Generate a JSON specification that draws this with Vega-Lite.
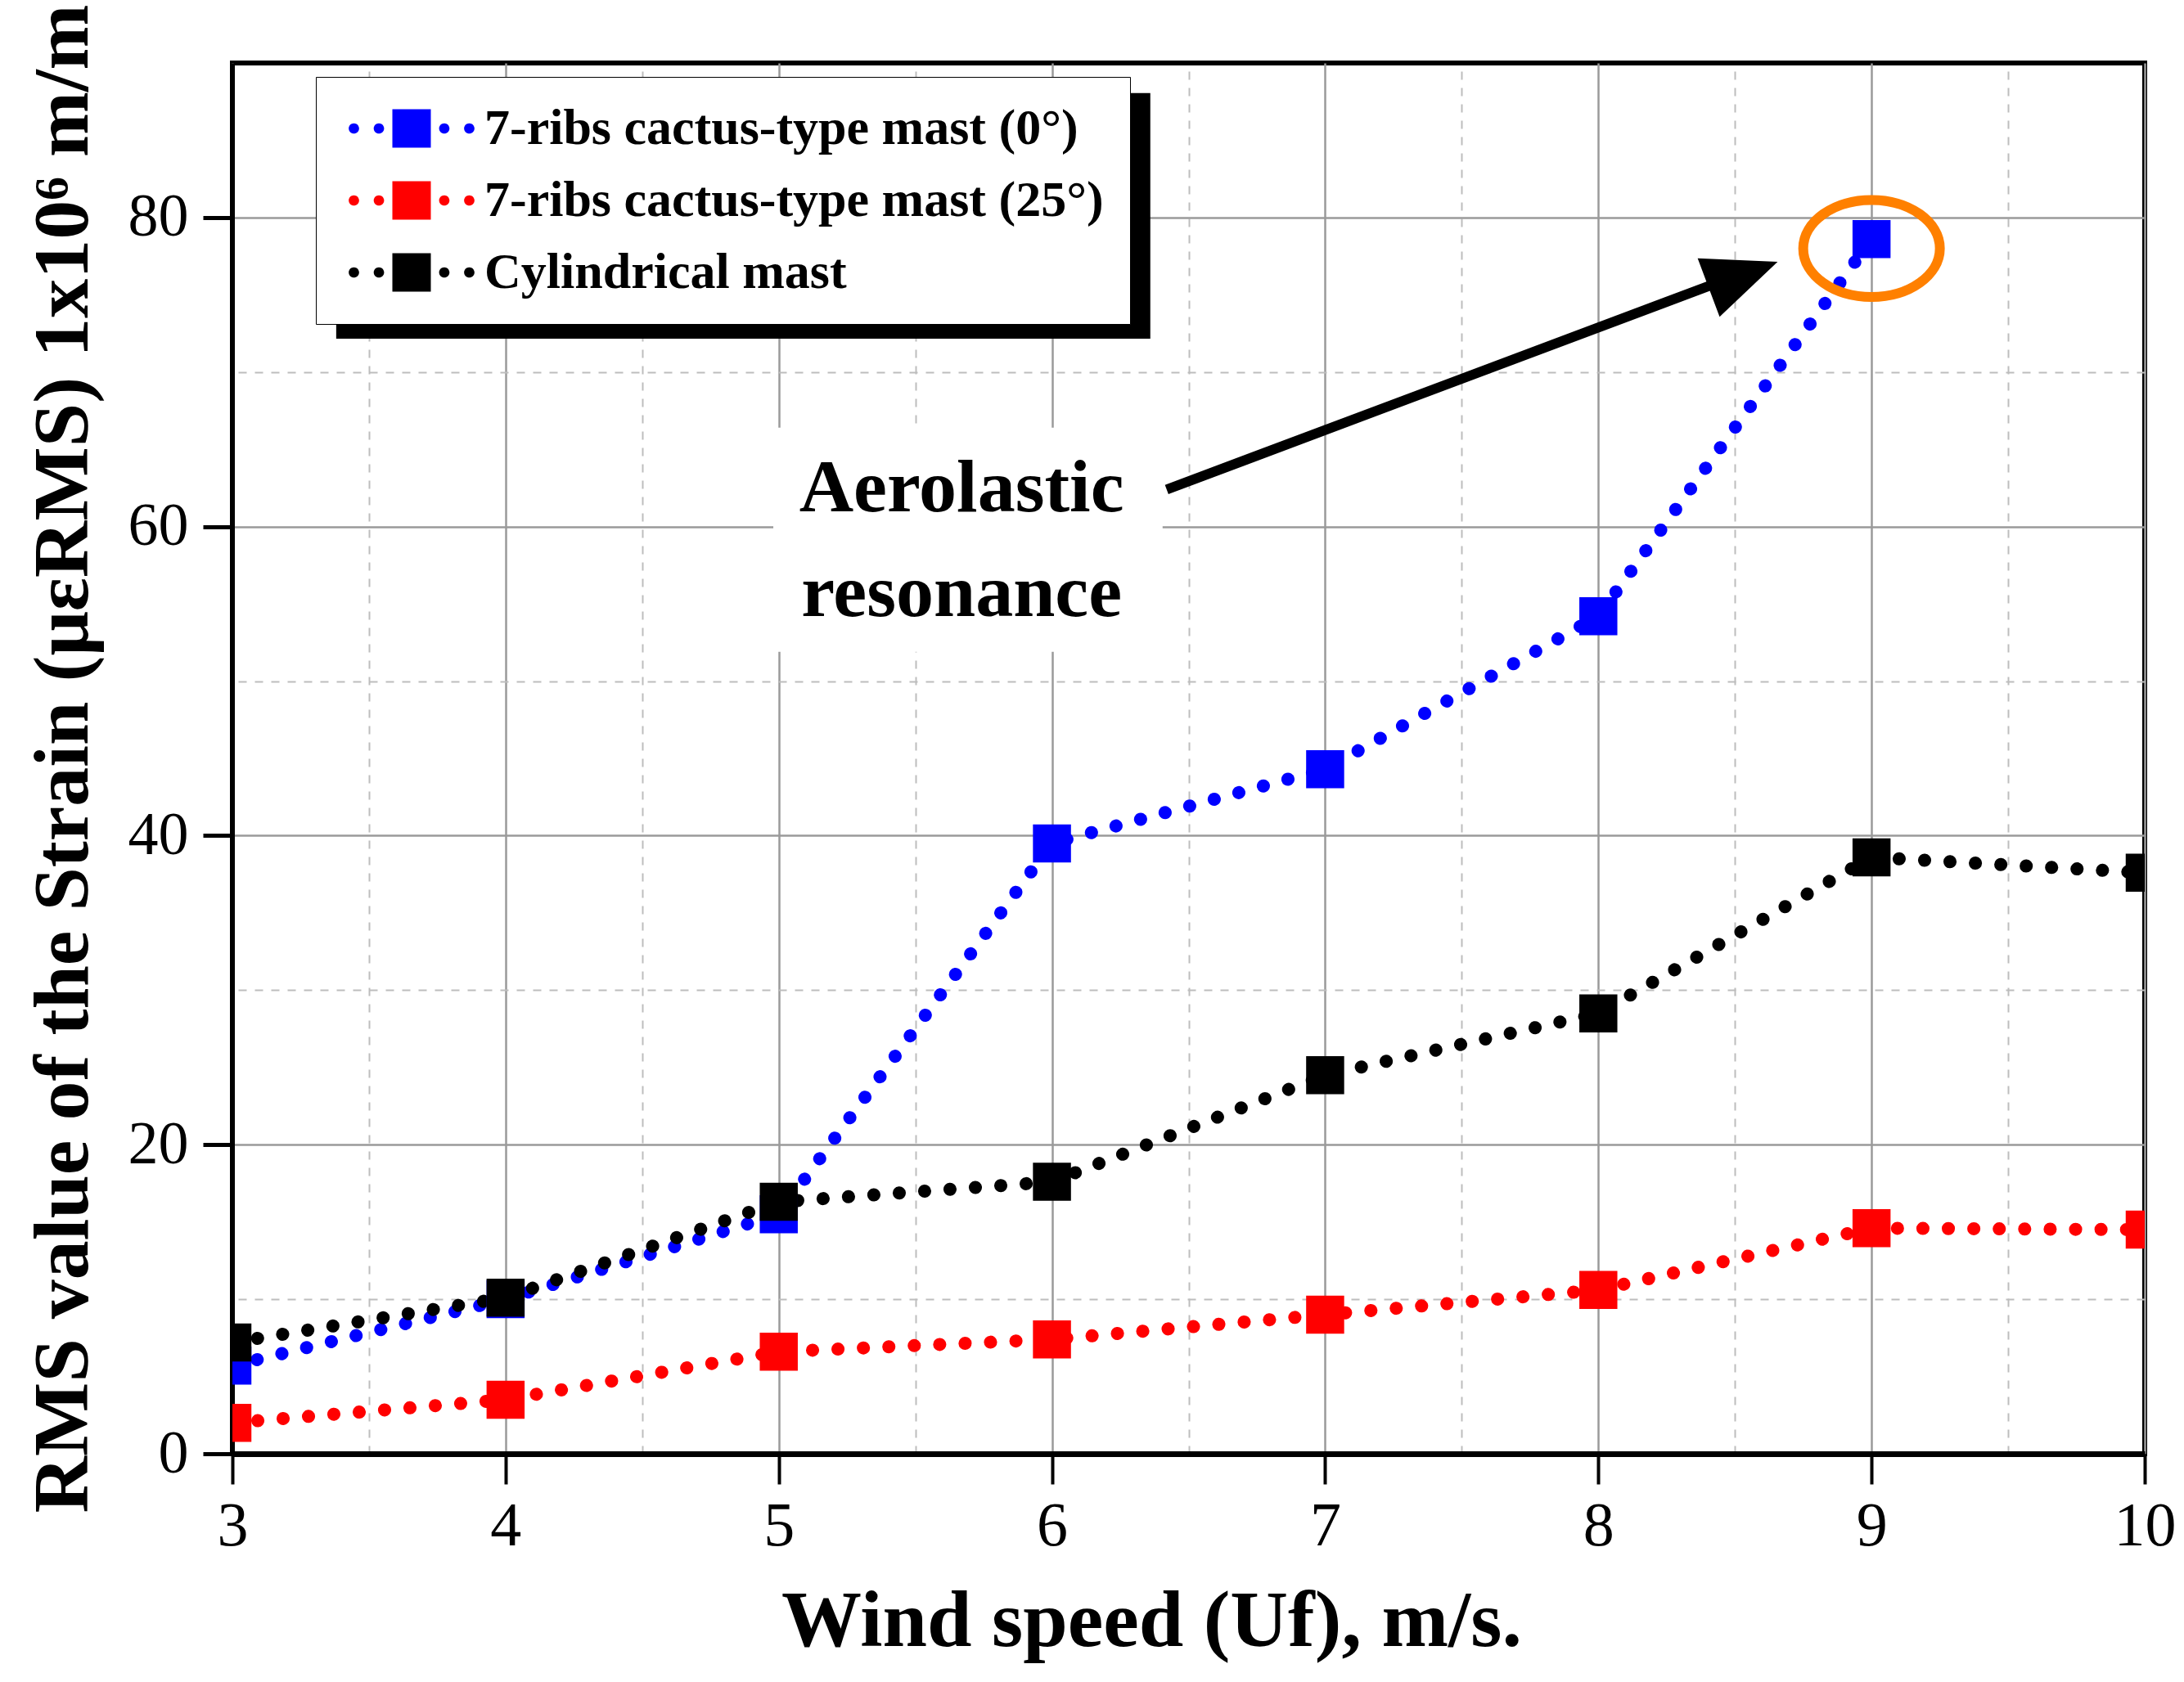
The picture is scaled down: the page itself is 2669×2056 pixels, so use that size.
{
  "$schema": "https://vega.github.io/schema/vega-lite/v6.json",
  "autosize": {"type": "none"},
  "width": 2337,
  "height": 1700,
  "padding": {"left": 284, "top": 77, "right": 48, "bottom": 279},
  "background": "white",
  "config": {
    "view": {"stroke": "black", "strokeWidth": 6},
    "font": "Liberation Serif"
  },
  "datasets": {
    "strain": [
      {"speed": 3, "strain": 5.7, "series": "7-ribs cactus-type mast (0°)"},
      {"speed": 4, "strain": 10.0, "series": "7-ribs cactus-type mast (0°)"},
      {"speed": 5, "strain": 15.5, "series": "7-ribs cactus-type mast (0°)"},
      {"speed": 6, "strain": 39.5, "series": "7-ribs cactus-type mast (0°)"},
      {"speed": 7, "strain": 44.3, "series": "7-ribs cactus-type mast (0°)"},
      {"speed": 8, "strain": 54.2, "series": "7-ribs cactus-type mast (0°)"},
      {"speed": 9, "strain": 78.6, "series": "7-ribs cactus-type mast (0°)"},
      {"speed": 3, "strain": 2.0, "series": "7-ribs cactus-type mast (25°)"},
      {"speed": 4, "strain": 3.5, "series": "7-ribs cactus-type mast (25°)"},
      {"speed": 5, "strain": 6.6, "series": "7-ribs cactus-type mast (25°)"},
      {"speed": 6, "strain": 7.4, "series": "7-ribs cactus-type mast (25°)"},
      {"speed": 7, "strain": 9.0, "series": "7-ribs cactus-type mast (25°)"},
      {"speed": 8, "strain": 10.6, "series": "7-ribs cactus-type mast (25°)"},
      {"speed": 9, "strain": 14.6, "series": "7-ribs cactus-type mast (25°)"},
      {"speed": 10, "strain": 14.5, "series": "7-ribs cactus-type mast (25°)"},
      {"speed": 3, "strain": 7.2, "series": "Cylindrical mast"},
      {"speed": 4, "strain": 10.1, "series": "Cylindrical mast"},
      {"speed": 5, "strain": 16.3, "series": "Cylindrical mast"},
      {"speed": 6, "strain": 17.6, "series": "Cylindrical mast"},
      {"speed": 7, "strain": 24.5, "series": "Cylindrical mast"},
      {"speed": 8, "strain": 28.5, "series": "Cylindrical mast"},
      {"speed": 9, "strain": 38.6, "series": "Cylindrical mast"},
      {"speed": 10, "strain": 37.6, "series": "Cylindrical mast"}
    ],
    "shadow": [{"x": 3.38, "x2": 6.36, "y": 88.05, "y2": 72.16}],
    "box": [{"x": 4.98, "x2": 6.405, "y": 66.4, "y2": 51.9}],
    "words": [
      {"x": 5.669, "y": 60.98, "text": "Aerolastic"},
      {"x": 5.669, "y": 54.2, "text": "resonance"}
    ],
    "arrow": [{"x": 6.42, "y": 62.4, "x2": 8.5, "y2": 76.2}],
    "head": [{"x": 8.53, "y": 76.3}],
    "ring": [{"x": 9.0, "y": 78.0}]
  },
  "layer": [
    {
      "data": {"name": "shadow"},
      "mark": {"type": "rect", "color": "black"},
      "encoding": {
        "x": {"field": "x", "type": "quantitative", "scale": {"domain": [3, 10]},
          "axis": {"orient": "top", "values": [3.5, 4.5, 5.5, 6.5, 7.5, 8.5, 9.5], "grid": true, "gridDash": [10, 10], "gridColor": "#bdbdbd", "gridWidth": 2, "labels": false, "ticks": false, "domain": false, "title": null}},
        "x2": {"field": "x2"},
        "y": {"field": "y", "type": "quantitative", "scale": {"domain": [0, 90]},
          "axis": {"orient": "right", "values": [10, 30, 50, 70], "grid": true, "gridDash": [10, 10], "gridColor": "#bdbdbd", "gridWidth": 2, "labels": false, "ticks": false, "domain": false, "title": null}},
        "y2": {"field": "y2"}
      }
    },
    {
      "data": {"name": "box"},
      "mark": {"type": "rect", "color": "white"},
      "encoding": {
        "x": {"field": "x", "type": "quantitative", "scale": {"domain": [3, 10]}, "axis": null},
        "x2": {"field": "x2"},
        "y": {"field": "y", "type": "quantitative", "scale": {"domain": [0, 90]}, "axis": null},
        "y2": {"field": "y2"}
      }
    },
    {
      "data": {"name": "strain"},
      "mark": {"type": "line", "strokeWidth": 16, "strokeDash": [0.1, 31], "strokeCap": "round", "clip": true},
      "encoding": {
        "x": {"field": "speed", "type": "quantitative", "scale": {"domain": [3, 10]},
          "axis": {"orient": "bottom", "values": [3, 4, 5, 6, 7, 8, 9, 10], "grid": true, "gridColor": "#9a9a9a", "gridWidth": 2.5,
            "domainColor": "black", "domainWidth": 7, "tickColor": "black", "tickSize": 37, "tickWidth": 4,
            "labelFont": "Liberation Serif", "labelFontSize": 76, "labelColor": "black", "labelPadding": 14, "labelFlush": false, "labelOverlap": false,
            "title": "Wind speed (Uf), m/s.", "titleFont": "Liberation Serif", "titleFontSize": 98, "titleFontWeight": "bold", "titleColor": "black",
            "titleX": 1123, "titleY": 234, "titleAlign": "center", "titleBaseline": "alphabetic"}},
        "y": {"field": "strain", "type": "quantitative", "scale": {"domain": [0, 90]},
          "axis": {"orient": "left", "values": [0, 20, 40, 60, 80], "grid": true, "gridColor": "#9a9a9a", "gridWidth": 2.5,
            "domainColor": "black", "domainWidth": 5, "tickColor": "black", "tickSize": 36, "tickWidth": 5,
            "labelFont": "Liberation Serif", "labelFontSize": 74, "labelColor": "black", "labelPadding": 18, "labelOverlap": false,
            "title": "RMS value of the Strain (μεRMS) 1x10⁶ m/m", "titleFont": "Liberation Serif", "titleFontSize": 96, "titleFontWeight": "bold", "titleColor": "black",
            "titleX": -178, "titleY": 850, "titleAngle": 270, "titleAlign": "center", "titleBaseline": "alphabetic"}},
        "color": {"field": "series", "type": "nominal",
          "scale": {"domain": ["7-ribs cactus-type mast (0°)", "7-ribs cactus-type mast (25°)", "Cylindrical mast"], "range": ["#0000ff", "#ff0000", "#000000"]},
          "legend": null}
      }
    },
    {
      "data": {"name": "strain"},
      "mark": {"type": "point", "shape": "square", "filled": true, "size": 2160, "opacity": 1, "clip": true},
      "encoding": {
        "x": {"field": "speed", "type": "quantitative", "scale": {"domain": [3, 10]}, "axis": null},
        "y": {"field": "strain", "type": "quantitative", "scale": {"domain": [0, 90]}, "axis": null},
        "color": {"field": "series", "type": "nominal",
          "scale": {"domain": ["7-ribs cactus-type mast (0°)", "7-ribs cactus-type mast (25°)", "Cylindrical mast"], "range": ["#0000ff", "#ff0000", "#000000"]},
          "legend": {"title": null, "orient": "none", "legendX": 102, "legendY": 17,
            "symbolType": "M-1,-1L1,-1L1,1L-1,1Z M-3.27,0A0.27,0.27,0,1,0,-2.73,0A0.27,0.27,0,1,0,-3.27,0Z M-1.97,0A0.27,0.27,0,1,0,-1.43,0A0.27,0.27,0,1,0,-1.97,0Z M1.43,0A0.27,0.27,0,1,0,1.97,0A0.27,0.27,0,1,0,1.43,0Z M2.73,0A0.27,0.27,0,1,0,3.27,0A0.27,0.27,0,1,0,2.73,0Z",
            "symbolSize": 2209, "symbolStrokeWidth": 0, "symbolOpacity": 1, "symbolOffset": 54, "labelOffset": 58,
            "padding": 32, "rowPadding": 26,
            "labelFont": "Liberation Serif", "labelFontWeight": "bold", "labelFontSize": 62, "labelColor": "black", "labelLimit": 0,
            "fillColor": "white", "strokeColor": "black"}}
      }
    },
    {
      "data": {"name": "words"},
      "mark": {"type": "text", "font": "Liberation Serif", "fontWeight": "bold", "fontSize": 92, "align": "center", "baseline": "alphabetic", "color": "black"},
      "encoding": {
        "x": {"field": "x", "type": "quantitative", "scale": {"domain": [3, 10]}, "axis": null},
        "y": {"field": "y", "type": "quantitative", "scale": {"domain": [0, 90]}, "axis": null},
        "text": {"field": "text"}
      }
    },
    {
      "data": {"name": "arrow"},
      "mark": {"type": "rule", "strokeWidth": 12, "color": "black"},
      "encoding": {
        "x": {"field": "x", "type": "quantitative", "scale": {"domain": [3, 10]}, "axis": null},
        "y": {"field": "y", "type": "quantitative", "scale": {"domain": [0, 90]}, "axis": null},
        "x2": {"field": "x2"},
        "y2": {"field": "y2"}
      }
    },
    {
      "data": {"name": "head"},
      "mark": {"type": "point", "shape": "M-1,-0.85L1,0L-1,0.85Z", "size": 8100, "angle": -20.5, "filled": true, "color": "black", "opacity": 1, "strokeJoin": "round"},
      "encoding": {
        "x": {"field": "x", "type": "quantitative", "scale": {"domain": [3, 10]}, "axis": null},
        "y": {"field": "y", "type": "quantitative", "scale": {"domain": [0, 90]}, "axis": null}
      }
    },
    {
      "data": {"name": "ring"},
      "mark": {"type": "point", "shape": "M-1,0A1,0.71,0,1,0,1,0A1,0.71,0,1,0,-1,0Z", "size": 27889, "filled": false, "stroke": "#ff8000", "strokeWidth": 12, "opacity": 1},
      "encoding": {
        "x": {"field": "x", "type": "quantitative", "scale": {"domain": [3, 10]}, "axis": null},
        "y": {"field": "y", "type": "quantitative", "scale": {"domain": [0, 90]}, "axis": null}
      }
    }
  ],
  "resolve": {"axis": {"x": "independent", "y": "independent"}, "legend": {"color": "independent"}}
}
